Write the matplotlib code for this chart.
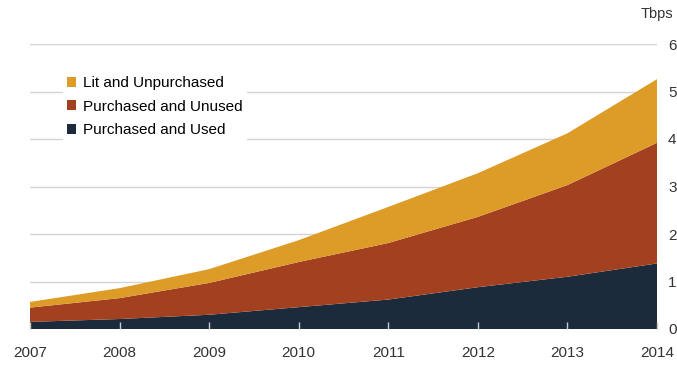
import matplotlib.pyplot as plt
from matplotlib.patches import Patch

plt.rcParams["font.family"] = ["Liberation Sans", "DejaVu Sans"]

years = [2007, 2008, 2009, 2010, 2011, 2012, 2013, 2014]
used = [0.15, 0.21, 0.30, 0.46, 0.62, 0.88, 1.10, 1.38]
unused = [0.30, 0.44, 0.67, 0.95, 1.19, 1.48, 1.93, 2.54]
lit = [0.12, 0.21, 0.29, 0.46, 0.76, 0.92, 1.09, 1.34]
labels = ["Purchased and Used", "Purchased and Unused", "Lit and Unpurchased"]
colors = ["#1b2b3b", "#a3401f", "#dd9b27"]
y_ticks = [0, 1, 2, 3, 4, 5, 6]

fig = plt.figure(figsize=(6.77, 3.65), dpi=100)
ax = fig.add_axes([30 / 677, 36 / 365, 627 / 677, 285 / 365])

# light grid behind the areas
for v in y_ticks[1:]:
    ax.axhline(v, color="#d4d4d4", linewidth=1, zorder=1)

ax.stackplot(years, used, unused, lit, colors=colors, linewidth=0, zorder=2)

ax.set_xlim(years[0], years[-1])
ax.set_ylim(0, 6)
ax.set_xticks(years)
ax.set_xticklabels([str(y) for y in years], fontsize=11, color="#333333")
ax.set_yticks(y_ticks)
ax.set_yticklabels([str(v) for v in y_ticks], fontsize=11, color="#333333")
ax.yaxis.tick_right()
ax.tick_params(axis="y", length=0, pad=8)
ax.tick_params(axis="x", direction="in", length=5, color="#c8c8c8", pad=12, width=1)
for sp in ax.spines.values():
    sp.set_visible(False)
ax.set_axisbelow(False)

fig.text(673 / 677, 1 - 14 / 365, "Tbps", fontsize=10.5, color="#333333", ha="right", va="center")

handles = [Patch(facecolor=c, label=l) for c, l in zip(colors[::-1], labels[::-1])]
leg = ax.legend(handles=handles, loc="upper left", bbox_to_anchor=(0.04, 0.93),
                frameon=True, fontsize=11, handlelength=0.6, handleheight=0.6,
                handletextpad=0.4, labelspacing=0.62, borderpad=0.3)
leg.get_frame().set_facecolor("white")
leg.get_frame().set_edgecolor("none")
leg.get_frame().set_alpha(1)
leg.set_zorder(3)

fig.savefig("out.png", dpi=100)
